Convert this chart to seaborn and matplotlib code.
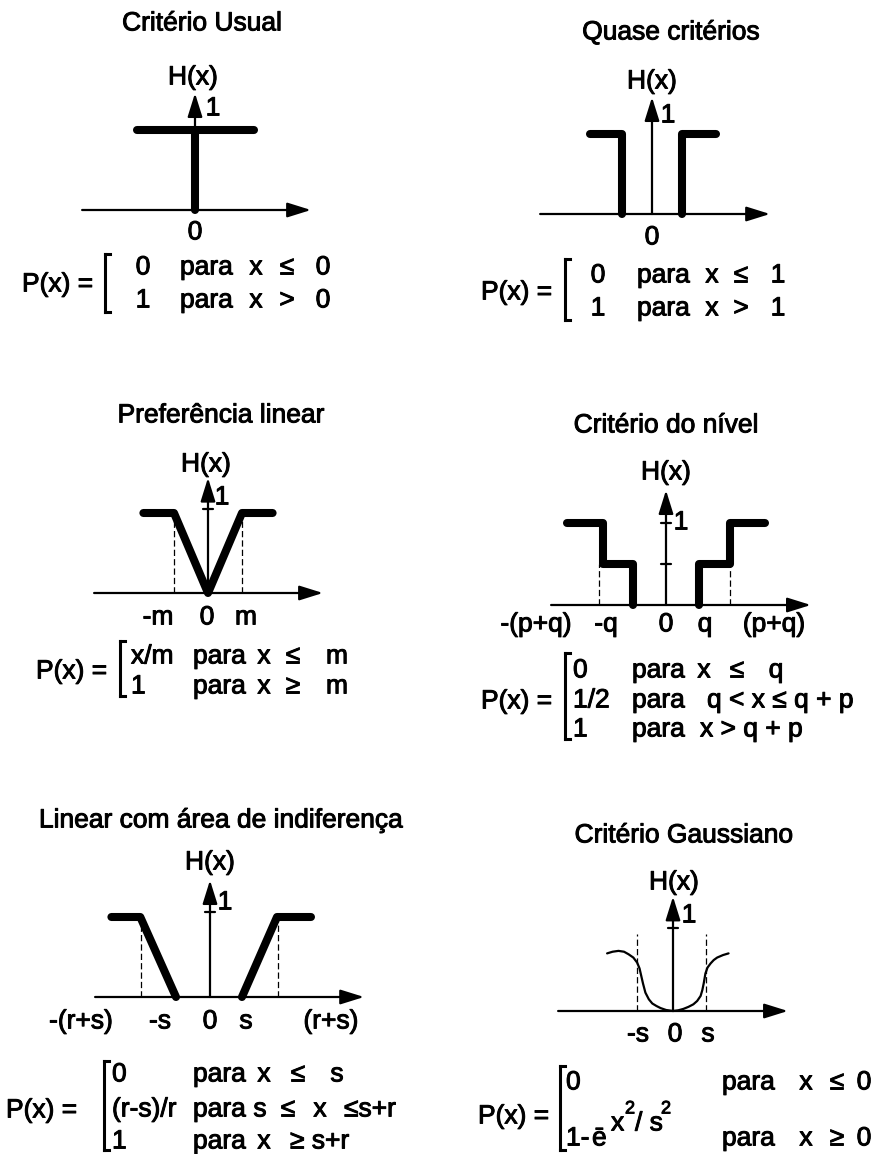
import numpy as np
import pandas as pd
import matplotlib
matplotlib.use("Agg")
import matplotlib.pyplot as plt
import matplotlib.patheffects as pe
import seaborn as sns
from matplotlib.lines import Line2D

sns.set_theme(style="white")
plt.rcParams["font.family"] = ["Liberation Sans", "DejaVu Sans"]

W, H = 873, 1154
fig = plt.figure(figsize=(W / 100, H / 100), dpi=100)
fig.patch.set_facecolor("white")

# ---------------- data ----------------
titles = ["Critério Usual", "Quase critérios", "Preferência linear",
          "Critério do nível", "Linear com área de indiferença", "Critério Gaussiano"]

# 1 - usual criterion (two segments)
usual_x = [-1.7, 1.75, 0, 0]
usual_y = [1, 1, 1, 0]
usual_seg = [0, 0, 1, 1]

# 2 - quasi criterion
quasi_x = [-1.82, -0.88, -0.88, 0.88, 0.88, 1.88]
quasi_y = [1, 1, 0, 0, 1, 1]
quasi_seg = [0, 0, 0, 1, 1, 1]

# 3 - linear preference
lin_x = [-1.9, -1.0, 0.0, 1.0, 1.9]
lin_y = [1, 1, 0, 1, 1]
lin_dash_x = [-1.0, 1.0]

# 4 - level criterion
lev_x = [-2.9, -1.85, -1.85, -0.97, -0.97, 0.97, 0.97, 1.88, 1.88, 2.9]
lev_y = [1, 1, 0.5, 0.5, 0, 0, 0.5, 0.5, 1, 1]
lev_seg = [0, 0, 0, 0, 0, 1, 1, 1, 1, 1]
lev_dash_x = [-1.97, 1.88]
lev_ticks = [1.0, 0.5]

# 5 - linear with indifference area
ind_x = [-2.9, -2.05, -1.0, 0.94, 1.97, 2.97]
ind_y = [1, 1, 0, 0, 1, 1]
ind_seg = [0, 0, 0, 1, 1, 1]
ind_dash_x = [-2.03, 2.0]

# 6 - gaussian criterion
gauss_x = [-1.91, -1.75, -1.58, -1.42, -1.29, -1.15, -1.04, -0.97, -0.92, -0.87,
           -0.80, -0.70, -0.60, -0.48, -0.36, -0.20, 0.0,
           0.15, 0.30, 0.45, 0.59, 0.70, 0.80, 0.85, 0.89, 0.94, 1.00, 1.09,
           1.18, 1.28, 1.45, 1.61]
gauss_y = [0.69, 0.71, 0.72, 0.71, 0.68, 0.64, 0.58, 0.51, 0.42, 0.33,
           0.22, 0.14, 0.09, 0.06, 0.035, 0.012, 0.0,
           0.008, 0.025, 0.05, 0.08, 0.12, 0.18, 0.25, 0.33, 0.45, 0.52, 0.57,
           0.61, 0.64, 0.67, 0.69]
gauss_dash_x = [-1.04, 0.96]

# ---------------- helpers ----------------
FS = 19
THICK = 5.8
AX_LW = 1.6
STROKE = [pe.withStroke(linewidth=0.7, foreground="black")]


def px(x, y):
    return x / W, 1 - y / H


def txt(x, y, s, ha="center", size=FS):
    # y = visual centre of capitals (pixels from top)
    fx, fy = px(x, y + size * 0.5 * 0.716 * 100 / 72)
    fig.text(fx, fy, s, ha=ha, va="baseline", fontsize=size, color="black",
             path_effects=STROKE)


def bracket(x, y0, y1):
    for xs, ys in (([x, x], [y0, y1]), ([x, x + 5], [y0, y0]), ([x, x + 5], [y1, y1])):
        fx = [v / W for v in xs]
        fy = [1 - v / H for v in ys]
        fig.add_artist(Line2D(fx, fy, transform=fig.transFigure, color="black",
                              lw=2.2, solid_capstyle="projecting"))


def panel_ax(ox, oy, box, sx=34.0, sy=80.0):
    l, t, r, b = box
    ax = fig.add_axes([l / W, 1 - b / H, (r - l) / W, (b - t) / H])
    ax.set_facecolor("none")
    lims = ((l - ox) / sx, (r - ox) / sx), ((oy - b) / sy, (oy - t) / sy)
    return ax, lims


def finish(ax, lims):
    ax.set_xlim(*lims[0])
    ax.set_ylim(*lims[1])
    ax.axis("off")


def arrows(ax, x0, x1, ytop):
    ap = dict(arrowstyle="-|>,head_length=0.8,head_width=0.25", lw=AX_LW,
              color="black", shrinkA=0, shrinkB=0, mutation_scale=18)
    ax.annotate("", xy=(x1, 0), xytext=(x0, 0), arrowprops=ap)
    ax.annotate("", xy=(0, ytop), xytext=(0, 0), arrowprops=ap)


def ytick(ax, y, half=0.15):
    ax.plot([-half, half], [y, y], color="black", lw=AX_LW)


def dashed(ax, xs, ytop):
    for x in xs:
        ax.plot([x, x], [0, ytop], color="black", lw=0.9, dashes=(5, 2.5))


def thick(ax, xs, ys, seg):
    df = pd.DataFrame({"x": xs, "y": ys, "seg": seg})
    sns.lineplot(data=df, x="x", y="y", units="seg", estimator=None, sort=False,
                 color="black", lw=THICK, solid_capstyle="round",
                 solid_joinstyle="round", ax=ax, legend=False)


# ---------------- panel 1 ----------------
ax, lims = panel_ax(195, 210, (60, 85, 330, 225))
thick(ax, usual_x, usual_y, usual_seg)
arrows(ax, -3.32, 3.41, 1.46)
finish(ax, lims)
txt(202, 21, titles[0])
txt(193, 75, "H(x)")
txt(213, 106, "1")
txt(195, 230, "0")
txt(22, 282, "P(x) =", ha="left")
bracket(105, 254, 312)
for y, a, op in ((265, "0", "≤"), (298, "1", ">")):
    txt(143, y, a)
    txt(180, y, "para", ha="left")
    txt(256, y, "x")
    txt(287, y, op)
    txt(323, y, "0")

# ---------------- panel 2 ----------------
ax, lims = panel_ax(652, 214, (520, 85, 800, 230))
thick(ax, quasi_x, quasi_y, quasi_seg)
arrows(ax, -3.29, 3.47, 1.46)
finish(ax, lims)
txt(671, 30, titles[1])
txt(652, 79, "H(x)")
txt(668, 113, "1")
txt(652, 235, "0")
txt(481, 290, "P(x) =", ha="left")
bracket(565, 259, 320)
for y, a, op in ((273, "0", "≤"), (306, "1", ">")):
    txt(598, y, a)
    txt(637, y, "para", ha="left")
    txt(712, y, "x")
    txt(741, y, op)
    txt(778, y, "1")

# ---------------- panel 3 ----------------
ax, lims = panel_ax(208, 593, (70, 470, 340, 605))
thick(ax, lin_x, lin_y, [0] * len(lin_x))
dashed(ax, lin_dash_x, 1.0)
arrows(ax, -3.35, 3.38, 1.44)
ytick(ax, 1.05)
finish(ax, lims)
txt(221, 413, titles[2])
txt(206, 462, "H(x)")
txt(222, 495, "1")
for x, s in ((158, "-m"), (207, "0"), (246, "m")):
    txt(x, 615, s)
txt(36, 669, "P(x) =", ha="left")
bracket(120, 641, 696)
for y, a, op in ((654, "x/m", "≤"), (684, "1", "≥")):
    txt(131, y, a, ha="left")
    txt(193, y, "para", ha="left")
    txt(264, y, "x")
    txt(293, y, op)
    txt(337, y, "m")

# ---------------- panel 4 ----------------
ax, lims = panel_ax(666, 605, (540, 480, 830, 615), sy=82.0)
thick(ax, lev_x, lev_y, lev_seg)
dashed(ax, lev_dash_x, 0.5)
arrows(ax, -3.38, 4.26, 1.40)
for yt in lev_ticks:
    ytick(ax, yt)
finish(ax, lims)
txt(666, 423, titles[3])
txt(666, 470, "H(x)")
txt(681, 520, "1")
for x, s in ((536, "-(p+q)"), (606, "-q"), (666, "0"), (705, "q"), (774, "(p+q)")):
    txt(x, 622, s)
txt(481, 699, "P(x) =", ha="left")
bracket(565, 653, 739)
txt(573, 668, "0", ha="left")
txt(573, 698, "1/2", ha="left")
txt(573, 727, "1", ha="left")
for y in (668, 698, 727):
    txt(632, y, "para", ha="left")
txt(704, 668, "x")
txt(737, 668, "≤")
txt(776, 668, "q")
txt(707, 698, "q < x ≤ q + p", ha="left")
txt(700, 727, "x > q + p", ha="left")

# ---------------- panel 5 ----------------
ax, lims = panel_ax(210, 997, (80, 870, 380, 1010))
thick(ax, ind_x, ind_y, ind_seg)
dashed(ax, ind_dash_x, 1.0)
arrows(ax, -3.38, 4.53, 1.46)
ytick(ax, 1.06)
finish(ax, lims)
txt(221, 818, titles[4])
txt(210, 860, "H(x)")
txt(225, 900, "1")
for x, s in ((81, "-(r+s)"), (160, "-s"), (210, "0"), (246, "s"), (331, "(r+s)")):
    txt(x, 1019, s)
txt(6, 1108, "P(x) =", ha="left")
bracket(104, 1061, 1150)
txt(112, 1072, "0", ha="left")
txt(112, 1107, "(r-s)/r", ha="left")
txt(112, 1139, "1", ha="left")
for y in (1072, 1107, 1139):
    txt(193, y, "para", ha="left")
txt(264, 1072, "x")
txt(298, 1072, "≤")
txt(337, 1072, "s")
txt(260, 1107, "s")
txt(288, 1107, "≤")
txt(320, 1107, "x")
txt(344, 1107, "≤s+r", ha="left")
txt(264, 1139, "x")
txt(290, 1139, "≥ s+r", ha="left")

# ---------------- panel 6 ----------------
ax, lims = panel_ax(673, 1011, (545, 885, 810, 1025), sx=34.5, sy=83.5)
gdf = pd.DataFrame({"x": gauss_x, "y": gauss_y})
sns.lineplot(data=gdf, x="x", y="y", sort=False, estimator=None, color="black",
             lw=1.6, ax=ax)
dashed(ax, gauss_dash_x, 0.92)
arrows(ax, -3.33, 3.33, 1.37)
ytick(ax, 1.0)
finish(ax, lims)
txt(684, 833, titles[5])
txt(674, 880, "H(x)")
txt(689, 913, "1")
for x, s in ((638, "-s"), (675, "0"), (708, "s")):
    txt(x, 1032, s)
txt(478, 1114, "P(x) =", ha="left")
bracket(560, 1066, 1150)
txt(566, 1080, "0", ha="left")
txt(566, 1136, "1-", ha="left")
txt(592, 1136, "ē", ha="left")
txt(611, 1121, "x", ha="left")
txt(625, 1107, "2", ha="left", size=13)
txt(635, 1121, "/ s", ha="left")
txt(661, 1107, "2", ha="left", size=13)
for y, op in ((1080, "≤"), (1136, "≥")):
    txt(722, y, "para", ha="left")
    txt(806, y, "x")
    txt(837, y, op)
    txt(864, y, "0")

fig.savefig("out.png", dpi=100, facecolor="white")
